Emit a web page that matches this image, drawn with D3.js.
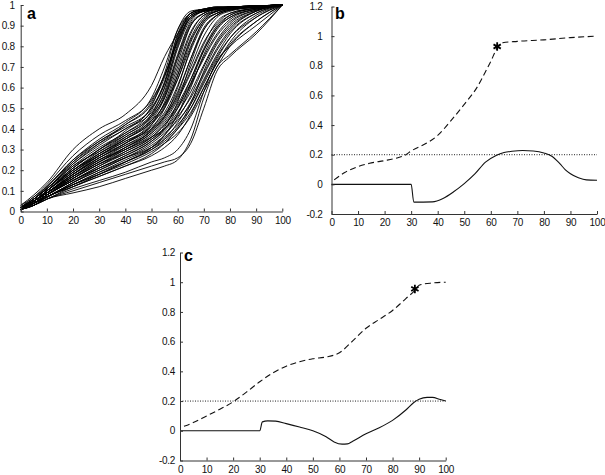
<!DOCTYPE html>
<html><head><meta charset="utf-8">
<script src="https://cdn.jsdelivr.net/npm/d3@7"></script>
<style>
body{margin:0;background:#fff;}
svg{display:block;font-family:"Liberation Sans",Arial,sans-serif;}
.axis text{font-size:10px;fill:#111;letter-spacing:-0.3px;}
.axis path,.axis line{stroke:#333;stroke-width:1;}
</style></head><body>
<svg id="chart" width="605" height="475"></svg>
<script>
// ---------- Panel a: cumulative curves ----------
const aX = [0,5,10,20,30,40,50,55,60,65,70,75,80,90,100];
const aCurves = [
[0.03,0.08,0.14,0.30,0.40,0.47,0.61,0.75,0.86,0.95,0.975,0.985,0.99,0.995,1],
[0.03,0.07,0.13,0.27,0.37,0.44,0.54,0.66,0.82,0.95,0.975,0.985,0.99,0.995,1],
[0.02,0.07,0.12,0.25,0.34,0.42,0.52,0.65,0.85,0.96,0.98,0.99,0.99,0.995,1],
[0.02,0.06,0.12,0.24,0.33,0.40,0.50,0.62,0.83,0.96,0.98,0.985,0.99,0.995,1],
[0.02,0.06,0.11,0.23,0.32,0.40,0.48,0.60,0.80,0.94,0.97,0.98,0.99,0.995,1],
[0.02,0.06,0.11,0.22,0.31,0.38,0.47,0.57,0.76,0.92,0.97,0.98,0.99,0.995,1],
[0.01,0.05,0.10,0.21,0.30,0.37,0.46,0.55,0.72,0.90,0.96,0.98,0.99,0.995,1],
[0.02,0.06,0.11,0.22,0.29,0.36,0.44,0.52,0.68,0.86,0.95,0.97,0.985,0.995,1],
[0.02,0.05,0.10,0.20,0.28,0.35,0.43,0.50,0.64,0.82,0.93,0.97,0.985,0.995,1],
[0.01,0.05,0.10,0.19,0.28,0.35,0.45,0.56,0.75,0.91,0.96,0.98,0.99,0.995,1],
[0.02,0.05,0.09,0.18,0.27,0.34,0.42,0.51,0.66,0.84,0.94,0.97,0.985,0.995,1],
[0.01,0.05,0.09,0.18,0.26,0.33,0.41,0.48,0.61,0.78,0.91,0.96,0.98,0.99,1],
[0.02,0.05,0.09,0.17,0.25,0.32,0.40,0.47,0.58,0.74,0.88,0.95,0.975,0.99,1],
[0.01,0.04,0.08,0.17,0.25,0.31,0.39,0.46,0.56,0.70,0.85,0.94,0.97,0.99,1],
[0.01,0.04,0.08,0.16,0.24,0.30,0.38,0.44,0.54,0.67,0.81,0.92,0.96,0.985,1],
[0.02,0.05,0.09,0.16,0.23,0.30,0.37,0.43,0.52,0.64,0.78,0.89,0.95,0.985,1],
[0.01,0.04,0.08,0.15,0.22,0.29,0.36,0.42,0.50,0.61,0.75,0.86,0.93,0.98,1],
[0.01,0.04,0.08,0.15,0.22,0.28,0.35,0.40,0.48,0.58,0.71,0.83,0.91,0.975,1],
[0.01,0.04,0.07,0.14,0.21,0.27,0.34,0.39,0.46,0.55,0.67,0.79,0.88,0.97,1],
[0.01,0.04,0.07,0.14,0.20,0.26,0.33,0.38,0.44,0.52,0.64,0.76,0.86,0.96,1],
[0.01,0.04,0.07,0.13,0.19,0.25,0.31,0.36,0.42,0.50,0.62,0.74,0.84,0.95,1],
[0.01,0.03,0.07,0.13,0.18,0.24,0.30,0.34,0.40,0.48,0.60,0.72,0.82,0.94,1],
[0.01,0.03,0.06,0.10,0.14,0.18,0.22,0.24,0.26,0.33,0.50,0.68,0.75,0.86,1],
[0.01,0.03,0.06,0.09,0.12,0.16,0.20,0.22,0.25,0.35,0.55,0.70,0.76,0.87,1],
[0.01,0.03,0.06,0.11,0.15,0.19,0.24,0.26,0.30,0.40,0.58,0.73,0.80,0.90,1],
[0.02,0.06,0.11,0.21,0.30,0.38,0.49,0.62,0.84,0.95,0.975,0.985,0.99,0.995,1],
[0.02,0.05,0.10,0.20,0.29,0.37,0.47,0.60,0.81,0.94,0.97,0.98,0.99,0.995,1],
[0.01,0.05,0.09,0.19,0.27,0.35,0.44,0.55,0.74,0.90,0.96,0.98,0.99,0.995,1],
[0.02,0.05,0.10,0.19,0.27,0.33,0.42,0.53,0.70,0.87,0.95,0.975,0.985,0.995,1],
[0.01,0.04,0.09,0.18,0.26,0.33,0.43,0.52,0.64,0.80,0.92,0.96,0.98,0.99,1],
[0.02,0.05,0.09,0.17,0.24,0.31,0.40,0.50,0.66,0.83,0.93,0.97,0.985,0.995,1],
[0.01,0.05,0.09,0.17,0.24,0.31,0.38,0.45,0.55,0.68,0.82,0.91,0.96,0.985,1],
[0.01,0.04,0.08,0.16,0.23,0.29,0.36,0.42,0.51,0.62,0.74,0.85,0.92,0.975,1],
[0.01,0.04,0.08,0.15,0.21,0.27,0.34,0.40,0.50,0.64,0.79,0.90,0.95,0.985,1],
[0.01,0.04,0.07,0.14,0.20,0.26,0.32,0.37,0.45,0.56,0.70,0.82,0.90,0.97,1],
[0.01,0.04,0.07,0.13,0.19,0.24,0.30,0.35,0.43,0.53,0.66,0.78,0.87,0.96,1],
[0.01,0.03,0.07,0.12,0.17,0.22,0.28,0.33,0.40,0.50,0.63,0.75,0.84,0.94,1],
[0.01,0.03,0.06,0.12,0.17,0.22,0.27,0.31,0.37,0.47,0.60,0.72,0.81,0.92,1],
[0.02,0.06,0.11,0.24,0.34,0.41,0.50,0.63,0.86,0.96,0.98,0.99,0.99,0.995,1],
[0.02,0.06,0.11,0.23,0.33,0.42,0.53,0.66,0.83,0.94,0.97,0.98,0.99,0.995,1],
[0.02,0.06,0.12,0.25,0.35,0.43,0.55,0.70,0.88,0.96,0.98,0.99,0.99,0.995,1],
[0.01,0.05,0.10,0.21,0.30,0.39,0.51,0.67,0.88,0.97,0.98,0.99,0.99,0.995,1],
[0.01,0.05,0.10,0.20,0.28,0.36,0.46,0.58,0.79,0.93,0.97,0.98,0.99,0.995,1],
[0.02,0.05,0.09,0.18,0.26,0.32,0.39,0.46,0.60,0.79,0.92,0.96,0.98,0.99,1],
[0.01,0.04,0.08,0.16,0.23,0.28,0.35,0.41,0.53,0.72,0.88,0.95,0.975,0.99,1],
[0.01,0.04,0.08,0.15,0.21,0.26,0.31,0.35,0.41,0.52,0.68,0.81,0.89,0.97,1],
[0.01,0.04,0.07,0.13,0.18,0.23,0.29,0.33,0.38,0.46,0.58,0.70,0.80,0.92,1],
[0.01,0.03,0.07,0.12,0.18,0.24,0.31,0.37,0.47,0.62,0.78,0.89,0.94,0.98,1],
[0.02,0.05,0.10,0.20,0.27,0.34,0.40,0.46,0.57,0.74,0.89,0.95,0.975,0.99,1],
[0.01,0.05,0.09,0.18,0.25,0.30,0.36,0.40,0.47,0.60,0.76,0.88,0.94,0.98,1]
];
const aXTicks = [0,10,20,30,40,50,60,70,80,90,100];
const aYTicks = [0,0.1,0.2,0.3,0.4,0.5,0.6,0.7,0.8,0.9,1];

// ---------- Panel b ----------
const bDashX = [1,5,10,15,20,25,28,30,35,40,45,50,55,58,60,62.4,64.5,70,80,90,100];
const bDashY = [0.03,0.08,0.12,0.145,0.16,0.18,0.2,0.225,0.27,0.33,0.43,0.54,0.66,0.76,0.83,0.92,0.955,0.965,0.975,0.99,1.0];
const bSolidX = [0,30,31,38,42,46,50,54,58,62,65,68,72,76,80,83,86,88,90,93,96,100];
const bSolidY = [0,0,-0.12,-0.118,-0.095,-0.05,0.005,0.07,0.15,0.195,0.215,0.223,0.228,0.225,0.212,0.19,0.14,0.1,0.072,0.045,0.03,0.028];
const bStar = [62.4, 0.93];

// ---------- Panel c ----------
const cDashX = [1.5,5,10,15,20,25,30,35,40,45,50,55,60,65,70,75,80,85,88.4,90,95,100];
const cDashY = [0.03,0.055,0.1,0.145,0.195,0.26,0.33,0.39,0.435,0.465,0.485,0.497,0.525,0.605,0.69,0.75,0.81,0.89,0.945,0.98,0.995,1.0];
const cSolidX = [0,30,31,33,36,40,45,50,55,58,61,63,65,70,75,80,85,88,90,93,95,98,100];
const cSolidY = [0,0,0.06,0.067,0.065,0.048,0.025,0.0,-0.04,-0.075,-0.09,-0.088,-0.07,-0.02,0.02,0.07,0.14,0.19,0.212,0.225,0.225,0.21,0.2];
const cStar = [88.4, 0.955];

const threshold = 0.2;
const bcYTicks = [-0.2,0,0.2,0.4,0.6,0.8,1,1.2];
const bcXTicks = [0,10,20,30,40,50,60,70,80,90,100];

const svg = d3.select("#chart");
const fmt = d => String(+d.toFixed(2));

function axes(g, x, y, xt, yt, ypad){
  g.append("g").attr("class","axis").attr("transform",`translate(0,${y.range()[0]})`)
    .call(d3.axisBottom(x).tickValues(xt).tickSizeInner(-3).tickSizeOuter(0).tickPadding(5).tickFormat(fmt));
  g.append("g").attr("class","axis").attr("transform",`translate(${x.range()[0]},0)`)
    .call(d3.axisLeft(y).tickValues(yt).tickSizeInner(-3).tickSizeOuter(0).tickPadding(ypad).tickFormat(fmt));
}

// Panel a
{
  const x = d3.scaleLinear().domain([0,100]).range([20.7,282.3]);
  const y = d3.scaleLinear().domain([0,1]).range([211.5,5]);
  const g = svg.append("g");
  const line = d3.line().x((d,i)=>x(aX[i])).y(d=>y(d)).curve(d3.curveMonotoneX);
  g.selectAll("path.c").data(aCurves).join("path").attr("class","c")
    .attr("d", line).attr("fill","none").attr("stroke","#000").attr("stroke-width",0.9);
  axes(g, x, y, aXTicks, aYTicks, 6);
  g.append("text").attr("x",27).attr("y",19).attr("font-size",16).attr("font-weight","bold").text("a");
}

function panelBC(xr, yr, dX, dY, sX, sY, star, label, lx, ly, ypad){
  const x = d3.scaleLinear().domain([0,100]).range(xr);
  const y = d3.scaleLinear().domain([-0.2,1.2]).range(yr);
  const g = svg.append("g");
  g.append("line").attr("x1",x(0)).attr("x2",x(100)).attr("y1",y(threshold)).attr("y2",y(threshold))
    .attr("stroke","#222").attr("stroke-width",1).attr("stroke-dasharray","1,1.5");
  const ld = d3.line().x((d,i)=>x(dX[i])).y(d=>y(d)).curve(d3.curveMonotoneX);
  g.append("path").datum(dY).attr("d",ld).attr("fill","none").attr("stroke","#111")
    .attr("stroke-width",1.1).attr("stroke-dasharray","6,3.5");
  const ls = d3.line().x((d,i)=>x(sX[i])).y(d=>y(d)).curve(d3.curveMonotoneX);
  g.append("path").datum(sY).attr("d",ls).attr("fill","none").attr("stroke","#111").attr("stroke-width",1.1);
  g.append("path").attr("d", d3.symbol().type(d3.symbolAsterisk).size(50)())
    .attr("transform",`translate(${x(star[0])},${y(star[1])})`).attr("stroke","#000").attr("stroke-width",1.8).attr("fill","none");
  axes(g, x, y, bcXTicks, bcYTicks, ypad);
  g.append("text").attr("x",lx).attr("y",ly).attr("font-size",16).attr("font-weight","bold").text(label);
}
panelBC([331.5,597],[214,6.5], bDashX,bDashY,bSolidX,bSolidY,bStar,"b",335,19,9);
panelBC([180,445.7],[460.5,252.5], cDashX,cDashY,cSolidX,cSolidY,cStar,"c",184,261,5);
</script>
</body></html>
